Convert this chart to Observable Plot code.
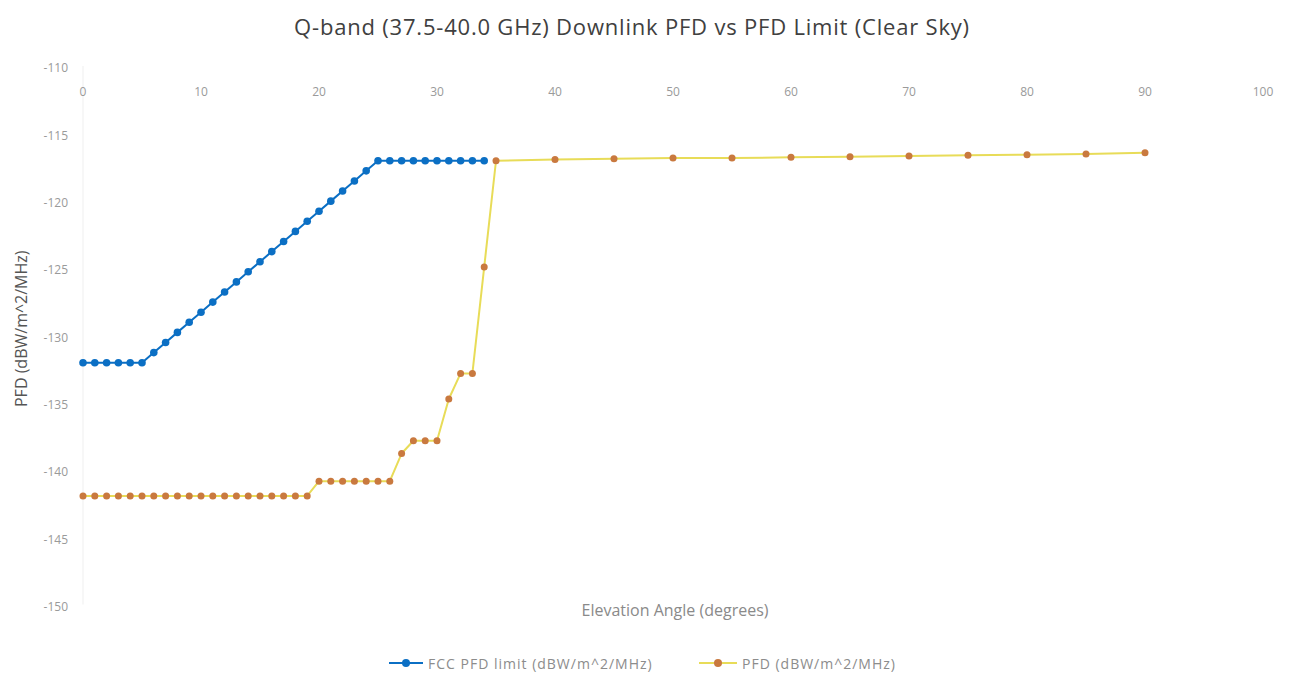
<!DOCTYPE html>
<html>
<head>
<meta charset="utf-8">
<script src="https://cdn.jsdelivr.net/npm/d3@7"></script>
<script src="https://cdn.jsdelivr.net/npm/@observablehq/plot@0.6"></script>
<style>
  body { margin: 0; background: #fff; width: 1289px; height: 678px; position: relative; overflow: hidden; font-family: "Open Sans", Lato, sans-serif; }
  #title { position: absolute; top: 11px; left: 0; width: 1264px; text-align: center; font-size: 22px; letter-spacing: 0.8px; color: #404040; white-space: nowrap; }
  #chart { position: absolute; top: 0; left: 0; }
  #legend { position: absolute; top: 653px; left: 0; width: 1289px; height: 20px; font-size: 14px; color: #8c8c8c; letter-spacing: 1px; }
  .item { position: absolute; top: 0; display: flex; align-items: center; height: 20px; white-space: nowrap; }
  .item svg { margin-right: 5px; }
</style>
</head>
<body>
<div id="title"></div>
<div id="chart"></div>
<div id="legend"></div>
<script>
// ---- data ----
const limitAngles = [0,1,2,3,4,5,6,7,8,9,10,11,12,13,14,15,16,17,18,19,20,21,22,23,24,25,26,27,28,29,30,31,32,33,34];
const limitValues = [-132,-132,-132,-132,-132,-132,-131.25,-130.5,-129.75,-129,-128.25,-127.5,-126.75,-126,-125.25,-124.5,-123.75,-123,-122.25,-121.5,-120.75,-120,-119.25,-118.5,-117.75,-117,-117,-117,-117,-117,-117,-117,-117,-117,-117];

const pfdAngles = [0,1,2,3,4,5,6,7,8,9,10,11,12,13,14,15,16,17,18,19,20,21,22,23,24,25,26,27,28,29,30,31,32,33,34,35,40,45,50,55,60,65,70,75,80,85,90];
const pfdValues = [-141.9,-141.9,-141.9,-141.9,-141.9,-141.9,-141.9,-141.9,-141.9,-141.9,-141.9,-141.9,-141.9,-141.9,-141.9,-141.9,-141.9,-141.9,-141.9,-141.9,
  -140.8,-140.8,-140.8,-140.8,-140.8,-140.8,-140.8,-138.75,-137.8,-137.8,-137.8,-134.7,-132.8,-132.8,-124.9,-117.0,
  -116.9,-116.85,-116.8,-116.8,-116.75,-116.7,-116.65,-116.6,-116.55,-116.5,-116.4];

const xTicks = [0,10,20,30,40,50,60,70,80,90,100];
const yTicks = [-110,-115,-120,-125,-130,-135,-140,-145,-150];

const seriesNames = ["FCC PFD limit (dBW/m^2/MHz)", "PFD (dBW/m^2/MHz)"];
const titleText = "Q-band (37.5-40.0 GHz) Downlink PFD vs PFD Limit (Clear Sky)";
const xLabel = "Elevation Angle (degrees)";
const yLabel = "PFD (dBW/m^2/MHz)";

const blue = "#0b6fc4";
const lineYellow = "#e8dc58";
const orange = "#c9793f";

document.getElementById("title").textContent = titleText;

const limitData = limitAngles.map((a, i) => ({angle: a, value: limitValues[i]}));
const pfdData = pfdAngles.map((a, i) => ({angle: a, value: pfdValues[i]}));

const W = 1289, H = 678;
const chart = Plot.plot({
  width: W,
  height: H,
  marginTop: 66,
  marginBottom: 73.5,
  marginLeft: 82.5,
  marginRight: 26.5,
  style: { fontFamily: "'Open Sans', Lato, sans-serif", background: "transparent" },
  x: { domain: [0, 100] },
  y: { domain: [-150, -110] },
  marks: [
    Plot.ruleX([0], { stroke: "#efefef", strokeWidth: 1 }),
    Plot.axisX({ anchor: "top", ticks: xTicks, tickSize: 0, tickPadding: 0, dy: 29, label: null, fontSize: 12, fill: "#9a9a9a" }),
    Plot.axisY({ anchor: "left", ticks: yTicks, tickSize: 0, tickPadding: 15, label: null, fontSize: 12, fill: "#9a9a9a", dy: 2, tickFormat: d => "-" + Math.abs(d) }),
    Plot.text([xLabel], { frameAnchor: "bottom", dy: 11, dx: 2, text: d => d, fontSize: 16, fill: "#8a8a8a", letterSpacing: "1px" }),
    Plot.text([yLabel], { frameAnchor: "left", textAnchor: "middle", dx: -61.5, dy: -7, rotate: -90, text: d => d, fontSize: 16, fill: "#555", letterSpacing: "1px" }),
    Plot.line(limitData, { x: "angle", y: "value", stroke: blue, strokeWidth: 2 }),
    Plot.dot(limitData, { x: "angle", y: "value", fill: blue, r: 3.8 }),
    Plot.line(pfdData, { x: "angle", y: "value", stroke: lineYellow, strokeWidth: 2 }),
    Plot.dot(pfdData, { x: "angle", y: "value", fill: orange, r: 3.5 })
  ]
});
document.getElementById("chart").appendChild(chart);

// legend
const legend = document.getElementById("legend");
const items = [
  { name: seriesNames[0], left: 389, line: blue, dot: blue, w: 34 },
  { name: seriesNames[1], left: 699, line: lineYellow, dot: orange, w: 38 }
];
for (const it of items) {
  const div = document.createElement("div");
  div.className = "item";
  div.style.left = it.left + "px";
  div.innerHTML = `<svg width="${it.w}" height="20"><line x1="0" y1="10" x2="${it.w}" y2="10" stroke="${it.line}" stroke-width="2"/><circle cx="${it.w/2}" cy="10" r="4" fill="${it.dot}"/></svg><span>${it.name}</span>`;
  legend.appendChild(div);
}
</script>
</body>
</html>
